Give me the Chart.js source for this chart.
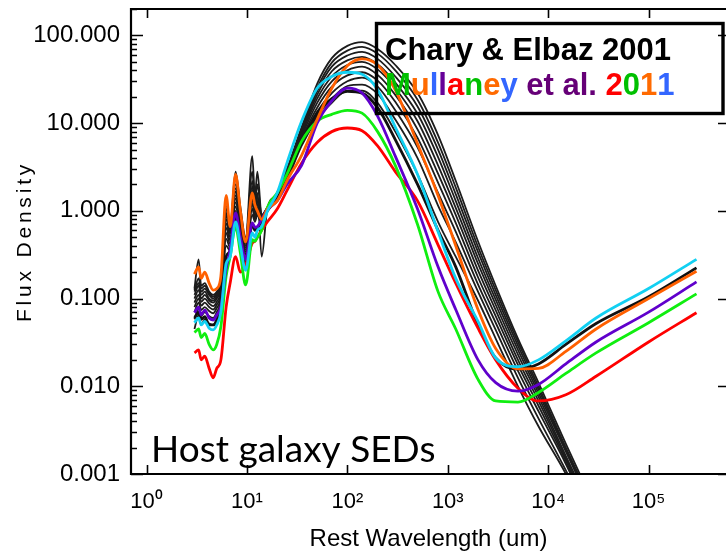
<!DOCTYPE html>
<html>
<head>
<meta charset="utf-8">
<script src="https://cdn.jsdelivr.net/npm/chart.js@4.4.1/dist/chart.umd.min.js"></script>
<style>
  html, body { margin: 0; padding: 0; background: #fff; }
  #wrap { width: 726px; height: 557px; }
</style>
</head>
<body>
<div id="wrap"><canvas id="sedChart" width="726" height="557"></canvas></div>
<script>
// Rest wavelength grid (um) shared by every template
const wave = [3.0, 3.3, 3.5, 3.8, 4.2, 4.6, 5.0, 5.5, 6.2, 6.8, 7.7, 8.6, 9.7, 11.3, 12.0, 12.7, 14,
  16, 20, 25, 35, 50, 70, 100, 140, 200, 300, 500, 800, 1200, 2000, 3000, 5000, 8000, 15000, 30000,
  100000, 300000];

// Mullaney et al. 2011 templates (go on to the radio)
const mullCyan = [0.053, 0.06, 0.05, 0.055, 0.046, 0.044, 0.05, 0.07, 0.25, 0.3, 0.75, 0.4, 0.21, 0.56, 0.5, 0.6, 0.66,
  1.0, 1.6, 3.5, 10.5, 25, 34, 38, 36, 24, 9, 2.6, 0.58, 0.17, 0.055, 0.021, 0.0167, 0.02, 0.033, 0.06, 0.13, 0.28];
const mullOrange = [0.19, 0.23, 0.17, 0.2, 0.15, 0.125, 0.13, 0.18, 1.5, 0.66, 2.6, 1.0, 0.44, 1.6, 1.17, 1.0, 0.8,
  1.05, 1.3, 2.2, 4.3, 11, 25, 45, 54, 46, 24, 5.8, 1.5, 0.4, 0.075, 0.027, 0.0158, 0.016, 0.025, 0.045, 0.1, 0.205];
const mullPurple = [0.069, 0.08, 0.065, 0.074, 0.06, 0.057, 0.065, 0.081, 0.22, 0.36, 0.95, 0.5, 0.28, 0.73, 0.65, 0.66, 0.8,
  1.03, 1.3, 2.0, 3.3, 10, 18, 25, 22, 12, 4.2, 1.05, 0.23, 0.075, 0.02, 0.011, 0.0088, 0.0105, 0.018, 0.032, 0.07, 0.155];
const mullGreen = [0.041, 0.045, 0.036, 0.04, 0.03, 0.026, 0.03, 0.048, 0.18, 0.3, 0.66, 0.33, 0.143, 0.47, 0.45, 0.5, 0.6,
  1.1, 1.6, 2.6, 6.2, 10.5, 12.6, 14, 13, 8.0, 3.3, 0.7, 0.12, 0.045, 0.012, 0.0068, 0.0066, 0.0085, 0.014, 0.024, 0.053, 0.113];
const mullRed = [0.024, 0.026, 0.02, 0.022, 0.016, 0.0125, 0.016, 0.02, 0.08, 0.15, 0.3, 0.2, 0.24, 0.43, 0.45, 0.5, 0.6,
  0.75, 1.05, 1.7, 3.5, 6, 8, 8.8, 8.2, 5.5, 2.8, 1.3, 0.41, 0.15, 0.046, 0.02, 0.0095, 0.0068, 0.008, 0.013, 0.032, 0.069];
const mullBlack = [0.06, 0.07, 0.058, 0.062, 0.05, 0.05, 0.055, 0.08, 0.3, 0.35, 0.85, 0.45, 0.25, 0.7, 0.6, 0.65, 0.75,
  1.0, 1.4, 2.5, 6, 13, 19, 23, 22, 15, 6.5, 2.0, 0.6, 0.23, 0.05, 0.021, 0.0157, 0.018, 0.03, 0.052, 0.105, 0.224];

// Chary & Elbaz 2001 templates (black), they stop at 3e4 um
const ce01 = [0.13, 0.28, 0.14, 0.15, 0.12, 0.11, 0.12, 0.16, 1.2, 0.7, 2.8, 1.1, 0.5, 4.2, 1.5, 2.8, 0.9,
  1.1, 1.6, 3.0, 9.0, 28, 55, 76, 84, 70, 46, 22, 7.3, 2.2, 0.45, 0.14, 0.035, 0.011, 0.0022, 0.0004];
const ce02 = [0.125, 0.17, 0.13, 0.14, 0.115, 0.105, 0.115, 0.155, 1.05, 0.66, 2.3, 1.0, 0.46, 2.8, 1.35, 2.0, 0.88,
  1.1, 1.58, 2.9, 8.6, 25, 49, 67, 74, 62, 40, 18.5, 6.0, 1.85, 0.39, 0.125, 0.032, 0.01, 0.002, 0.00037];
const ce03 = [0.12, 0.15, 0.12, 0.13, 0.11, 0.1, 0.11, 0.15, 0.95, 0.62, 2.0, 0.95, 0.44, 2.2, 1.25, 1.6, 0.3,
  1.08, 1.55, 2.85, 8.2, 23, 44, 59, 65, 54, 34, 15.5, 5.0, 1.55, 0.34, 0.11, 0.029, 0.0092, 0.0019, 0.00035];
const ce04 = [0.11, 0.14, 0.11, 0.12, 0.1, 0.095, 0.105, 0.14, 0.88, 0.58, 1.8, 0.9, 0.42, 1.9, 1.15, 1.45, 0.85,
  1.07, 1.52, 2.8, 7.8, 21, 39, 52, 57, 47, 29, 12.8, 4.1, 1.3, 0.29, 0.097, 0.026, 0.0084, 0.0018, 0.00033];
const ce05 = [0.1, 0.125, 0.1, 0.11, 0.095, 0.09, 0.1, 0.135, 0.8, 0.55, 1.65, 0.82, 0.4, 1.7, 1.1, 1.3, 0.82,
  1.06, 1.5, 2.7, 7.4, 19, 34, 46, 50, 41, 25, 10.5, 3.3, 1.08, 0.25, 0.085, 0.023, 0.0076, 0.0016, 0.0003];
const ce06 = [0.09, 0.11, 0.092, 0.1, 0.088, 0.082, 0.092, 0.125, 0.72, 0.5, 1.5, 0.76, 0.38, 1.5, 1.0, 1.2, 0.8,
  1.05, 1.47, 2.6, 7.0, 17, 30, 40, 44, 35.5, 21, 8.5, 2.65, 0.9, 0.21, 0.074, 0.02, 0.0068, 0.0015, 0.00028];
const ce07 = [0.08, 0.1, 0.083, 0.09, 0.08, 0.075, 0.085, 0.115, 0.64, 0.46, 1.38, 0.7, 0.36, 1.35, 0.92, 1.1, 0.78,
  1.04, 1.44, 2.5, 6.6, 15, 26, 35, 38, 30.5, 17.5, 6.8, 2.1, 0.73, 0.175, 0.063, 0.0175, 0.006, 0.0014, 0.00026];
const ce08 = [0.07, 0.09, 0.074, 0.08, 0.072, 0.068, 0.078, 0.105, 0.56, 0.42, 1.25, 0.64, 0.34, 1.2, 0.86, 1.02, 0.75,
  1.03, 1.4, 2.4, 6.2, 13.5, 22, 30, 33, 26, 14, 5.3, 1.6, 0.58, 0.145, 0.053, 0.015, 0.0052, 0.0013, 0.00024];
const ce09 = [0.058, 0.078, 0.063, 0.07, 0.063, 0.06, 0.07, 0.097, 0.48, 0.38, 1.12, 0.58, 0.32, 1.05, 0.8, 0.95, 0.72,
  1.02, 1.36, 2.3, 5.8, 12, 19, 26.5, 27.5, 21.5, 11, 4.0, 1.15, 0.44, 0.12, 0.044, 0.0125, 0.0043, 0.0011, 0.00022];
const ce10 = [0.045, 0.065, 0.05, 0.058, 0.052, 0.05, 0.06, 0.09, 0.4, 0.35, 1.0, 0.55, 0.3, 0.9, 0.75, 0.9, 0.7,
  1.0, 1.32, 2.2, 5.5, 11, 17, 23.5, 23.5, 17, 8, 2.6, 0.75, 0.3, 0.095, 0.035, 0.01, 0.0035, 0.001, 0.0002];

// Axis ticks
const xTickValues = [1, 10, 100, 1000, 10000, 100000];
const xTickLabels = ['10⁰', '10¹', '10²', '10³', '10⁴', '10⁵'];
const yTickValues = [0.001, 0.01, 0.1, 1, 10, 100];
const yTickLabels = ['0.001', '0.010', '0.100', '1.000', '10.000', '100.000'];

// Legend text, letter by letter with its colour
const titleLine1 = 'Chary & Elbaz 2001';
const titleLine2 = ['M', 'u', 'l', 'l', 'a', 'n', 'e', 'y', ' ', 'et al.', ' ', '2', '0', '1', '1'];
const titleLine2Colors = ['#00c000', '#ff6a00', '#3366ff', '#660099', '#ff0000', '#00c000', '#ff6a00', '#3366ff', '#000',
  '#660077', '#000', '#ff0000', '#00c000', '#ff6a00', '#3366ff'];

function toPoints(vals) {
    return vals.map((v, i) => ({ x: wave[i], y: v }));
}

const colored = [
    { data: mullCyan, color: '#12d0f2' },
    { data: mullOrange, color: '#ff6000' },
    { data: mullPurple, color: '#6000cc' },
    { data: mullGreen, color: '#10ee10' },
    { data: mullRed, color: '#ff0000' },
    { data: mullBlack, color: '#111111' }
];
const blackCurves = [ce01, ce02, ce03, ce04, ce05, ce06, ce07, ce08, ce09, ce10];

const datasets = [];
colored.forEach(c => {
    datasets.push({ data: toPoints(c.data), borderColor: c.color, borderWidth: 2.8 });
});
blackCurves.forEach(vals => {
    datasets.push({ data: toPoints(vals), borderColor: '#1c1c1c', borderWidth: 1.8 });
});

// Frame, inward tick marks, y title and the two notes
const frameAndNotes = {
    id: 'frameAndNotes',
    afterDatasetsDraw(chart) {
        const { ctx, chartArea: a, scales: { x, y } } = chart;
        const rightTick = a.right + 6; // right axis sits just past the canvas edge
        ctx.save();
        ctx.strokeStyle = '#000';
        ctx.lineWidth = 2.2;
        ctx.beginPath();
        ctx.moveTo(rightTick, a.top);
        ctx.lineTo(a.left, a.top);
        ctx.lineTo(a.left, a.bottom);
        ctx.lineTo(rightTick, a.bottom);
        ctx.stroke();

        ctx.lineWidth = 1.6;
        ctx.beginPath();
        xTickValues.forEach(v => {
            const px = Math.round(x.getPixelForValue(v)) + 0.5;
            ctx.moveTo(px, a.bottom); ctx.lineTo(px, a.bottom - 9);
            ctx.moveTo(px, a.top); ctx.lineTo(px, a.top + 9);
        });
        for (let e = -3; e <= 2; e++) {
            for (let m = 1; m <= 9; m++) {
                const v = m * Math.pow(10, e);
                if (v > y.max) continue;
                const len = m === 1 ? 12 : 6;
                const py = Math.round(y.getPixelForValue(v)) + 0.5;
                ctx.moveTo(a.left, py); ctx.lineTo(a.left + len, py);
                if (m === 1) { ctx.moveTo(rightTick, py); ctx.lineTo(rightTick - 14, py); }
            }
        }
        ctx.stroke();

        // y axis title, the original font is widely spaced
        ctx.fillStyle = '#000';
        ctx.save();
        ctx.translate(25, (a.top + a.bottom) / 2);
        ctx.rotate(-Math.PI / 2);
        ctx.font = '21px "Liberation Sans"';
        ctx.letterSpacing = '3.8px';
        ctx.textAlign = 'center';
        ctx.textBaseline = 'middle';
        ctx.fillText('Flux Density', 0, 0);
        ctx.restore();

        // big label bottom left
        ctx.textBaseline = 'alphabetic';
        ctx.textAlign = 'left';
        ctx.font = '37px Lato';
        ctx.fillText('Host galaxy SEDs', 151, 462);

        // legend box
        ctx.lineWidth = 3.4;
        ctx.strokeRect(376.5, 23.5, 346.5, 90);
        ctx.font = 'bold 31px "Liberation Sans"';
        ctx.fillText(titleLine1, 385, 60);
        let cx = 385;
        titleLine2.forEach((s, i) => {
            ctx.fillStyle = titleLine2Colors[i];
            ctx.fillText(s, cx, 95);
            cx += ctx.measureText(s).width;
        });
        ctx.restore();
    }
};

new Chart(document.getElementById('sedChart'), {
    type: 'line',
    data: { datasets: datasets },
    options: {
        responsive: false,
        animation: false,
        events: [],
        devicePixelRatio: 1,
        layout: { padding: { top: 9, right: 0, left: 0, bottom: 0 } },
        plugins: { legend: { display: false }, tooltip: { enabled: false } },
        elements: {
            point: { radius: 0 },
            line: { cubicInterpolationMode: 'monotone', fill: false }
        },
        scales: {
            x: {
                type: 'logarithmic',
                min: 0.709,
                max: 590000,
                afterBuildTicks: s => { s.ticks = xTickValues.map(v => ({ value: v })); },
                afterFit: s => { s.height = 83; s.paddingLeft = 0; s.paddingRight = 0; },
                grid: { display: false, drawTicks: false },
                border: { display: false },
                ticks: {
                    autoSkip: false, maxRotation: 0, padding: 15, color: '#000',
                    font: { family: 'Liberation Sans', size: 22 },
                    callback: (v, i) => xTickLabels[i]
                },
                title: {
                    display: true, text: 'Rest Wavelength (um)', color: '#000',
                    font: { family: 'Liberation Sans', size: 24, lineHeight: 1.2 },
                    padding: { top: 0, bottom: 3 }
                }
            },
            y: {
                type: 'logarithmic',
                min: 0.001,
                max: 200,
                afterBuildTicks: s => { s.ticks = yTickValues.map(v => ({ value: v })); },
                afterFit: s => { s.width = 131; s.paddingTop = 0; s.paddingBottom = 0; },
                grid: { display: false, drawTicks: false },
                border: { display: false },
                ticks: {
                    autoSkip: false, padding: 11, color: '#000',
                    font: { family: 'Liberation Sans', size: 24 },
                    callback: (v, i) => yTickLabels[i]
                },
                title: { display: false }
            }
        }
    },
    plugins: [frameAndNotes]
});
</script>
</body>
</html>
